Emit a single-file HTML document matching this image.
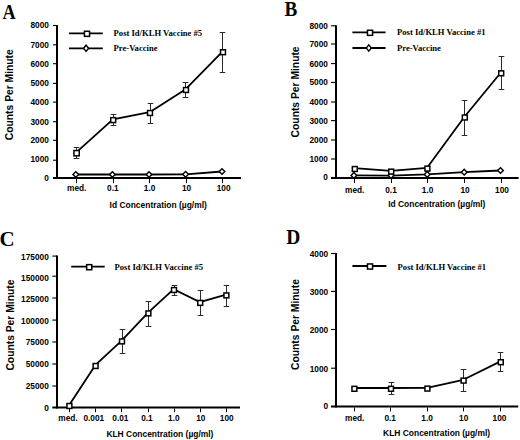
<!DOCTYPE html>
<html><head><meta charset="utf-8"><style>
html,body{margin:0;padding:0;background:#fff;width:520px;height:440px;overflow:hidden}
svg{display:block}
</style></head><body>
<svg width="520" height="440" viewBox="0 0 520 440">
<rect width="520" height="440" fill="#fff"/>
<text transform="translate(2.40,19.10) scale(0.85,1)" x="0" y="0" font-family='"Liberation Serif", serif' font-size="21.5" font-weight="bold">A</text>
<line x1="53.00" y1="25.50" x2="57.00" y2="25.50" stroke="#000" stroke-width="1.1" stroke-linecap="butt"/>
<text x="48.90" y="28.41" font-family='"Liberation Sans", sans-serif' font-size="8.3" font-weight="bold" text-anchor="end">8000</text>
<line x1="53.00" y1="44.80" x2="57.00" y2="44.80" stroke="#000" stroke-width="1.1" stroke-linecap="butt"/>
<text x="48.90" y="47.70" font-family='"Liberation Sans", sans-serif' font-size="8.3" font-weight="bold" text-anchor="end">7000</text>
<line x1="53.00" y1="63.70" x2="57.00" y2="63.70" stroke="#000" stroke-width="1.1" stroke-linecap="butt"/>
<text x="48.90" y="66.61" font-family='"Liberation Sans", sans-serif' font-size="8.3" font-weight="bold" text-anchor="end">6000</text>
<line x1="53.00" y1="83.40" x2="57.00" y2="83.40" stroke="#000" stroke-width="1.1" stroke-linecap="butt"/>
<text x="48.90" y="86.31" font-family='"Liberation Sans", sans-serif' font-size="8.3" font-weight="bold" text-anchor="end">5000</text>
<line x1="53.00" y1="102.10" x2="57.00" y2="102.10" stroke="#000" stroke-width="1.1" stroke-linecap="butt"/>
<text x="48.90" y="105.00" font-family='"Liberation Sans", sans-serif' font-size="8.3" font-weight="bold" text-anchor="end">4000</text>
<line x1="53.00" y1="121.70" x2="57.00" y2="121.70" stroke="#000" stroke-width="1.1" stroke-linecap="butt"/>
<text x="48.90" y="124.61" font-family='"Liberation Sans", sans-serif' font-size="8.3" font-weight="bold" text-anchor="end">3000</text>
<line x1="53.00" y1="140.30" x2="57.00" y2="140.30" stroke="#000" stroke-width="1.1" stroke-linecap="butt"/>
<text x="48.90" y="143.21" font-family='"Liberation Sans", sans-serif' font-size="8.3" font-weight="bold" text-anchor="end">2000</text>
<line x1="53.00" y1="160.20" x2="57.00" y2="160.20" stroke="#000" stroke-width="1.1" stroke-linecap="butt"/>
<text x="48.90" y="161.80" font-family='"Liberation Sans", sans-serif' font-size="8.3" font-weight="bold" text-anchor="end">1000</text>
<text x="48.90" y="180.91" font-family='"Liberation Sans", sans-serif' font-size="8.3" font-weight="bold" text-anchor="end">0</text>
<line x1="57.00" y1="25.00" x2="57.00" y2="179.00" stroke="#000" stroke-width="2.0" stroke-linecap="butt"/>
<line x1="53.00" y1="178.00" x2="241.00" y2="178.00" stroke="#000" stroke-width="2.0" stroke-linecap="butt"/>
<line x1="76.50" y1="179.00" x2="76.50" y2="183.20" stroke="#000" stroke-width="1.0" stroke-linecap="butt"/>
<line x1="113.50" y1="179.00" x2="113.50" y2="183.20" stroke="#000" stroke-width="1.0" stroke-linecap="butt"/>
<line x1="149.50" y1="179.00" x2="149.50" y2="183.20" stroke="#000" stroke-width="1.0" stroke-linecap="butt"/>
<line x1="186.50" y1="179.00" x2="186.50" y2="183.20" stroke="#000" stroke-width="1.0" stroke-linecap="butt"/>
<line x1="222.50" y1="179.00" x2="222.50" y2="183.20" stroke="#000" stroke-width="1.0" stroke-linecap="butt"/>
<text x="76.70" y="191.00" font-family='"Liberation Sans", sans-serif' font-size="8.3" font-weight="bold" text-anchor="middle">med.</text>
<text x="112.80" y="191.00" font-family='"Liberation Sans", sans-serif' font-size="8.3" font-weight="bold" text-anchor="middle">0.1</text>
<text x="149.60" y="191.00" font-family='"Liberation Sans", sans-serif' font-size="8.3" font-weight="bold" text-anchor="middle">1.0</text>
<text x="186.60" y="191.00" font-family='"Liberation Sans", sans-serif' font-size="8.3" font-weight="bold" text-anchor="middle">10</text>
<text x="223.60" y="191.00" font-family='"Liberation Sans", sans-serif' font-size="8.3" font-weight="bold" text-anchor="middle">100</text>
<text x="158.20" y="208.00" font-family='"Liberation Sans", sans-serif' font-size="8.45" font-weight="bold" text-anchor="middle">Id Concentration (µg/ml)</text>
<text transform="translate(13.30,94.70) rotate(-90)" x="0" y="0" font-family='"Liberation Sans", sans-serif' font-size="10.3" font-weight="bold" text-anchor="middle">Counts Per Minute</text>
<line x1="69.00" y1="33.30" x2="102.80" y2="33.30" stroke="#000" stroke-width="1.8" stroke-linecap="butt"/>
<rect x="84.45" y="31.25" width="5.10" height="5.10" fill="#fff" stroke="#000" stroke-width="1.5"/>
<text x="113.60" y="35.60" font-family='"Liberation Serif", serif' font-size="8.6" font-weight="bold" text-anchor="start">Post Id/KLH Vaccine #5</text>
<line x1="69.00" y1="48.30" x2="102.80" y2="48.30" stroke="#000" stroke-width="1.8" stroke-linecap="butt"/>
<path d="M86.10 45.20L88.60 48.30L86.10 51.40L83.60 48.30Z" fill="#fff" stroke="#000" stroke-width="1.4"/>
<text x="113.60" y="51.00" font-family='"Liberation Serif", serif' font-size="8.6" font-weight="bold" text-anchor="start">Pre-Vaccine</text>
<polyline points="75.80,174.50 112.40,174.50 149.00,174.50 185.60,174.30 222.00,171.50" fill="none" stroke="#000" stroke-width="1.8" stroke-linejoin="round"/>
<path d="M75.80 171.65L78.65 174.50L75.80 177.35L72.95 174.50Z" fill="#fff" stroke="#000" stroke-width="1.4"/>
<path d="M112.40 171.65L115.25 174.50L112.40 177.35L109.55 174.50Z" fill="#fff" stroke="#000" stroke-width="1.4"/>
<path d="M149.00 171.65L151.85 174.50L149.00 177.35L146.15 174.50Z" fill="#fff" stroke="#000" stroke-width="1.4"/>
<path d="M185.60 171.45L188.45 174.30L185.60 177.15L182.75 174.30Z" fill="#fff" stroke="#000" stroke-width="1.4"/>
<path d="M222.00 168.65L224.85 171.50L222.00 174.35L219.15 171.50Z" fill="#fff" stroke="#000" stroke-width="1.4"/>
<line x1="76.50" y1="147.40" x2="76.50" y2="158.60" stroke="#2a2a2a" stroke-width="1.0" stroke-linecap="butt"/>
<line x1="73.70" y1="147.50" x2="79.30" y2="147.50" stroke="#2a2a2a" stroke-width="1.0" stroke-linecap="butt"/>
<line x1="73.70" y1="158.50" x2="79.30" y2="158.50" stroke="#2a2a2a" stroke-width="1.0" stroke-linecap="butt"/>
<line x1="113.50" y1="114.80" x2="113.50" y2="125.30" stroke="#2a2a2a" stroke-width="1.0" stroke-linecap="butt"/>
<line x1="110.70" y1="114.50" x2="116.30" y2="114.50" stroke="#2a2a2a" stroke-width="1.0" stroke-linecap="butt"/>
<line x1="110.70" y1="125.50" x2="116.30" y2="125.50" stroke="#2a2a2a" stroke-width="1.0" stroke-linecap="butt"/>
<line x1="150.50" y1="103.50" x2="150.50" y2="123.00" stroke="#2a2a2a" stroke-width="1.0" stroke-linecap="butt"/>
<line x1="147.70" y1="103.50" x2="153.30" y2="103.50" stroke="#2a2a2a" stroke-width="1.0" stroke-linecap="butt"/>
<line x1="147.70" y1="123.50" x2="153.30" y2="123.50" stroke="#2a2a2a" stroke-width="1.0" stroke-linecap="butt"/>
<line x1="185.50" y1="82.70" x2="185.50" y2="97.20" stroke="#2a2a2a" stroke-width="1.0" stroke-linecap="butt"/>
<line x1="182.70" y1="82.50" x2="188.30" y2="82.50" stroke="#2a2a2a" stroke-width="1.0" stroke-linecap="butt"/>
<line x1="182.70" y1="97.50" x2="188.30" y2="97.50" stroke="#2a2a2a" stroke-width="1.0" stroke-linecap="butt"/>
<line x1="222.50" y1="32.50" x2="222.50" y2="72.00" stroke="#2a2a2a" stroke-width="1.0" stroke-linecap="butt"/>
<line x1="219.70" y1="32.50" x2="225.30" y2="32.50" stroke="#2a2a2a" stroke-width="1.0" stroke-linecap="butt"/>
<line x1="219.70" y1="72.50" x2="225.30" y2="72.50" stroke="#2a2a2a" stroke-width="1.0" stroke-linecap="butt"/>
<polyline points="76.30,152.40 112.90,119.30 149.70,112.20 185.70,89.20 222.70,51.40" fill="none" stroke="#000" stroke-width="1.8" stroke-linejoin="round"/>
<rect x="73.95" y="150.55" width="5.30" height="5.30" fill="#fff" stroke="#000" stroke-width="1.5"/>
<rect x="110.75" y="117.65" width="4.90" height="4.90" fill="#fff" stroke="#000" stroke-width="1.5"/>
<rect x="147.55" y="110.55" width="4.90" height="4.90" fill="#fff" stroke="#000" stroke-width="1.5"/>
<rect x="183.55" y="87.55" width="4.90" height="4.90" fill="#fff" stroke="#000" stroke-width="1.5"/>
<rect x="220.55" y="49.75" width="4.90" height="4.90" fill="#fff" stroke="#000" stroke-width="1.5"/>
<text transform="translate(284.40,15.60) scale(0.91,1)" x="0" y="0" font-family='"Liberation Serif", serif' font-size="21.0" font-weight="bold">B</text>
<line x1="331.00" y1="25.80" x2="336.00" y2="25.80" stroke="#000" stroke-width="1.1" stroke-linecap="butt"/>
<text x="327.90" y="28.71" font-family='"Liberation Sans", sans-serif' font-size="8.3" font-weight="bold" text-anchor="end">8000</text>
<line x1="331.00" y1="44.00" x2="336.00" y2="44.00" stroke="#000" stroke-width="1.1" stroke-linecap="butt"/>
<text x="327.90" y="46.91" font-family='"Liberation Sans", sans-serif' font-size="8.3" font-weight="bold" text-anchor="end">7000</text>
<line x1="331.00" y1="63.60" x2="336.00" y2="63.60" stroke="#000" stroke-width="1.1" stroke-linecap="butt"/>
<text x="327.90" y="66.50" font-family='"Liberation Sans", sans-serif' font-size="8.3" font-weight="bold" text-anchor="end">6000</text>
<line x1="331.00" y1="82.40" x2="336.00" y2="82.40" stroke="#000" stroke-width="1.1" stroke-linecap="butt"/>
<text x="327.90" y="85.31" font-family='"Liberation Sans", sans-serif' font-size="8.3" font-weight="bold" text-anchor="end">5000</text>
<line x1="331.00" y1="102.00" x2="336.00" y2="102.00" stroke="#000" stroke-width="1.1" stroke-linecap="butt"/>
<text x="327.90" y="105.11" font-family='"Liberation Sans", sans-serif' font-size="8.3" font-weight="bold" text-anchor="end">4000</text>
<line x1="331.00" y1="120.60" x2="336.00" y2="120.60" stroke="#000" stroke-width="1.1" stroke-linecap="butt"/>
<text x="327.90" y="123.70" font-family='"Liberation Sans", sans-serif' font-size="8.3" font-weight="bold" text-anchor="end">3000</text>
<line x1="331.00" y1="140.00" x2="336.00" y2="140.00" stroke="#000" stroke-width="1.1" stroke-linecap="butt"/>
<text x="327.90" y="143.10" font-family='"Liberation Sans", sans-serif' font-size="8.3" font-weight="bold" text-anchor="end">2000</text>
<line x1="331.00" y1="159.00" x2="336.00" y2="159.00" stroke="#000" stroke-width="1.1" stroke-linecap="butt"/>
<text x="327.90" y="162.10" font-family='"Liberation Sans", sans-serif' font-size="8.3" font-weight="bold" text-anchor="end">1000</text>
<text x="327.90" y="180.00" font-family='"Liberation Sans", sans-serif' font-size="8.3" font-weight="bold" text-anchor="end">0</text>
<line x1="336.00" y1="25.30" x2="336.00" y2="179.00" stroke="#000" stroke-width="2.0" stroke-linecap="butt"/>
<line x1="331.00" y1="178.00" x2="518.60" y2="178.00" stroke="#000" stroke-width="2.0" stroke-linecap="butt"/>
<line x1="354.50" y1="179.00" x2="354.50" y2="183.00" stroke="#000" stroke-width="1.0" stroke-linecap="butt"/>
<line x1="391.50" y1="179.00" x2="391.50" y2="183.00" stroke="#000" stroke-width="1.0" stroke-linecap="butt"/>
<line x1="427.50" y1="179.00" x2="427.50" y2="183.00" stroke="#000" stroke-width="1.0" stroke-linecap="butt"/>
<line x1="464.50" y1="179.00" x2="464.50" y2="183.00" stroke="#000" stroke-width="1.0" stroke-linecap="butt"/>
<line x1="501.50" y1="179.00" x2="501.50" y2="183.00" stroke="#000" stroke-width="1.0" stroke-linecap="butt"/>
<text x="354.70" y="193.00" font-family='"Liberation Sans", sans-serif' font-size="8.3" font-weight="bold" text-anchor="middle">med.</text>
<text x="391.00" y="193.00" font-family='"Liberation Sans", sans-serif' font-size="8.3" font-weight="bold" text-anchor="middle">0.1</text>
<text x="427.60" y="193.00" font-family='"Liberation Sans", sans-serif' font-size="8.3" font-weight="bold" text-anchor="middle">1.0</text>
<text x="465.10" y="193.00" font-family='"Liberation Sans", sans-serif' font-size="8.3" font-weight="bold" text-anchor="middle">10</text>
<text x="502.00" y="193.00" font-family='"Liberation Sans", sans-serif' font-size="8.3" font-weight="bold" text-anchor="middle">100</text>
<text x="436.80" y="207.00" font-family='"Liberation Sans", sans-serif' font-size="8.45" font-weight="bold" text-anchor="middle">Id Concentration (µg/ml)</text>
<text transform="translate(298.60,91.90) rotate(-90)" x="0" y="0" font-family='"Liberation Sans", sans-serif' font-size="10.3" font-weight="bold" text-anchor="middle">Counts Per Minute</text>
<line x1="352.40" y1="32.30" x2="385.60" y2="32.30" stroke="#000" stroke-width="1.8" stroke-linecap="butt"/>
<rect x="367.45" y="30.25" width="5.10" height="5.10" fill="#fff" stroke="#000" stroke-width="1.5"/>
<text x="397.00" y="35.00" font-family='"Liberation Serif", serif' font-size="8.6" font-weight="bold" text-anchor="start">Post Id/KLH Vaccine #1</text>
<line x1="352.40" y1="48.00" x2="385.60" y2="48.00" stroke="#000" stroke-width="1.8" stroke-linecap="butt"/>
<path d="M368.80 44.90L371.30 48.00L368.80 51.10L366.30 48.00Z" fill="#fff" stroke="#000" stroke-width="1.4"/>
<text x="397.00" y="51.10" font-family='"Liberation Serif", serif' font-size="8.6" font-weight="bold" text-anchor="start">Pre-Vaccine</text>
<polyline points="353.90,175.40 391.00,175.60 427.20,174.40 464.20,172.20 500.50,170.50" fill="none" stroke="#000" stroke-width="1.8" stroke-linejoin="round"/>
<path d="M353.90 172.55L356.75 175.40L353.90 178.25L351.05 175.40Z" fill="#fff" stroke="#000" stroke-width="1.4"/>
<path d="M391.00 172.75L393.85 175.60L391.00 178.45L388.15 175.60Z" fill="#fff" stroke="#000" stroke-width="1.4"/>
<path d="M427.20 171.55L430.05 174.40L427.20 177.25L424.35 174.40Z" fill="#fff" stroke="#000" stroke-width="1.4"/>
<path d="M464.20 169.35L467.05 172.20L464.20 175.05L461.35 172.20Z" fill="#fff" stroke="#000" stroke-width="1.4"/>
<path d="M500.50 167.65L503.35 170.50L500.50 173.35L497.65 170.50Z" fill="#fff" stroke="#000" stroke-width="1.4"/>
<line x1="464.50" y1="100.00" x2="464.50" y2="135.50" stroke="#2a2a2a" stroke-width="1.0" stroke-linecap="butt"/>
<line x1="461.70" y1="100.50" x2="467.30" y2="100.50" stroke="#2a2a2a" stroke-width="1.0" stroke-linecap="butt"/>
<line x1="461.70" y1="135.50" x2="467.30" y2="135.50" stroke="#2a2a2a" stroke-width="1.0" stroke-linecap="butt"/>
<line x1="501.50" y1="56.40" x2="501.50" y2="89.00" stroke="#2a2a2a" stroke-width="1.0" stroke-linecap="butt"/>
<line x1="498.70" y1="56.50" x2="504.30" y2="56.50" stroke="#2a2a2a" stroke-width="1.0" stroke-linecap="butt"/>
<line x1="498.70" y1="89.50" x2="504.30" y2="89.50" stroke="#2a2a2a" stroke-width="1.0" stroke-linecap="butt"/>
<polyline points="354.50,168.20 390.90,170.80 427.10,167.80 464.50,116.70 500.90,72.50" fill="none" stroke="#000" stroke-width="1.8" stroke-linejoin="round"/>
<rect x="352.35" y="166.55" width="4.90" height="4.90" fill="#fff" stroke="#000" stroke-width="1.5"/>
<rect x="388.75" y="169.15" width="4.90" height="4.90" fill="#fff" stroke="#000" stroke-width="1.5"/>
<rect x="424.95" y="166.15" width="4.90" height="4.90" fill="#fff" stroke="#000" stroke-width="1.5"/>
<rect x="462.35" y="115.05" width="4.90" height="4.90" fill="#fff" stroke="#000" stroke-width="1.5"/>
<rect x="498.75" y="70.85" width="4.90" height="4.90" fill="#fff" stroke="#000" stroke-width="1.5"/>
<text transform="translate(-0.50,245.50) scale(0.965,1)" x="0" y="0" font-family='"Liberation Serif", serif' font-size="21.75" font-weight="bold">C</text>
<line x1="52.30" y1="256.10" x2="57.00" y2="256.10" stroke="#000" stroke-width="1.1" stroke-linecap="butt"/>
<text x="48.80" y="260.40" font-family='"Liberation Sans", sans-serif' font-size="8.3" font-weight="bold" text-anchor="end">175000</text>
<line x1="52.30" y1="276.20" x2="57.00" y2="276.20" stroke="#000" stroke-width="1.1" stroke-linecap="butt"/>
<text x="48.80" y="280.70" font-family='"Liberation Sans", sans-serif' font-size="8.3" font-weight="bold" text-anchor="end">150000</text>
<line x1="52.30" y1="298.00" x2="57.00" y2="298.00" stroke="#000" stroke-width="1.1" stroke-linecap="butt"/>
<text x="48.80" y="302.40" font-family='"Liberation Sans", sans-serif' font-size="8.3" font-weight="bold" text-anchor="end">125000</text>
<line x1="52.30" y1="320.10" x2="57.00" y2="320.10" stroke="#000" stroke-width="1.1" stroke-linecap="butt"/>
<text x="48.80" y="323.90" font-family='"Liberation Sans", sans-serif' font-size="8.3" font-weight="bold" text-anchor="end">100000</text>
<line x1="52.30" y1="342.00" x2="57.00" y2="342.00" stroke="#000" stroke-width="1.1" stroke-linecap="butt"/>
<text x="48.80" y="345.40" font-family='"Liberation Sans", sans-serif' font-size="8.3" font-weight="bold" text-anchor="end">75000</text>
<line x1="52.30" y1="364.00" x2="57.00" y2="364.00" stroke="#000" stroke-width="1.1" stroke-linecap="butt"/>
<text x="48.80" y="367.20" font-family='"Liberation Sans", sans-serif' font-size="8.3" font-weight="bold" text-anchor="end">50000</text>
<line x1="52.30" y1="386.00" x2="57.00" y2="386.00" stroke="#000" stroke-width="1.1" stroke-linecap="butt"/>
<text x="48.80" y="389.00" font-family='"Liberation Sans", sans-serif' font-size="8.3" font-weight="bold" text-anchor="end">25000</text>
<text x="48.80" y="410.90" font-family='"Liberation Sans", sans-serif' font-size="8.3" font-weight="bold" text-anchor="end">0</text>
<line x1="57.00" y1="255.60" x2="57.00" y2="408.40" stroke="#000" stroke-width="2.0" stroke-linecap="butt"/>
<line x1="52.30" y1="407.40" x2="240.00" y2="407.40" stroke="#000" stroke-width="2.0" stroke-linecap="butt"/>
<line x1="69.50" y1="408.40" x2="69.50" y2="412.20" stroke="#000" stroke-width="1.0" stroke-linecap="butt"/>
<line x1="95.50" y1="408.40" x2="95.50" y2="412.20" stroke="#000" stroke-width="1.0" stroke-linecap="butt"/>
<line x1="121.50" y1="408.40" x2="121.50" y2="412.20" stroke="#000" stroke-width="1.0" stroke-linecap="butt"/>
<line x1="148.50" y1="408.40" x2="148.50" y2="412.20" stroke="#000" stroke-width="1.0" stroke-linecap="butt"/>
<line x1="174.50" y1="408.40" x2="174.50" y2="412.20" stroke="#000" stroke-width="1.0" stroke-linecap="butt"/>
<line x1="200.50" y1="408.40" x2="200.50" y2="412.20" stroke="#000" stroke-width="1.0" stroke-linecap="butt"/>
<line x1="226.50" y1="408.40" x2="226.50" y2="412.20" stroke="#000" stroke-width="1.0" stroke-linecap="butt"/>
<text x="68.05" y="420.70" font-family='"Liberation Sans", sans-serif' font-size="8.3" font-weight="bold" text-anchor="middle">med.</text>
<text x="93.85" y="420.70" font-family='"Liberation Sans", sans-serif' font-size="8.3" font-weight="bold" text-anchor="middle">0.001</text>
<text x="120.35" y="420.70" font-family='"Liberation Sans", sans-serif' font-size="8.3" font-weight="bold" text-anchor="middle">0.01</text>
<text x="146.90" y="420.70" font-family='"Liberation Sans", sans-serif' font-size="8.3" font-weight="bold" text-anchor="middle">0.1</text>
<text x="173.80" y="420.70" font-family='"Liberation Sans", sans-serif' font-size="8.3" font-weight="bold" text-anchor="middle">1.0</text>
<text x="200.80" y="420.70" font-family='"Liberation Sans", sans-serif' font-size="8.3" font-weight="bold" text-anchor="middle">10</text>
<text x="226.70" y="420.70" font-family='"Liberation Sans", sans-serif' font-size="8.3" font-weight="bold" text-anchor="middle">100</text>
<text x="159.90" y="437.00" font-family='"Liberation Sans", sans-serif' font-size="8.45" font-weight="bold" text-anchor="middle">KLH Concentration (µg/ml)</text>
<text transform="translate(14.10,325.10) rotate(-90)" x="0" y="0" font-family='"Liberation Sans", sans-serif' font-size="10.3" font-weight="bold" text-anchor="middle">Counts Per Minute</text>
<line x1="71.20" y1="266.70" x2="104.70" y2="266.70" stroke="#000" stroke-width="1.8" stroke-linecap="butt"/>
<rect x="86.65" y="264.65" width="5.10" height="5.10" fill="#fff" stroke="#000" stroke-width="1.5"/>
<text x="114.50" y="269.60" font-family='"Liberation Serif", serif' font-size="8.6" font-weight="bold" text-anchor="start">Post Id/KLH Vaccine #5</text>
<line x1="122.50" y1="329.60" x2="122.50" y2="353.00" stroke="#2a2a2a" stroke-width="1.0" stroke-linecap="butt"/>
<line x1="119.70" y1="329.50" x2="125.30" y2="329.50" stroke="#2a2a2a" stroke-width="1.0" stroke-linecap="butt"/>
<line x1="119.70" y1="353.50" x2="125.30" y2="353.50" stroke="#2a2a2a" stroke-width="1.0" stroke-linecap="butt"/>
<line x1="148.50" y1="301.60" x2="148.50" y2="326.00" stroke="#2a2a2a" stroke-width="1.0" stroke-linecap="butt"/>
<line x1="145.70" y1="301.50" x2="151.30" y2="301.50" stroke="#2a2a2a" stroke-width="1.0" stroke-linecap="butt"/>
<line x1="145.70" y1="326.50" x2="151.30" y2="326.50" stroke="#2a2a2a" stroke-width="1.0" stroke-linecap="butt"/>
<line x1="174.50" y1="285.00" x2="174.50" y2="295.60" stroke="#2a2a2a" stroke-width="1.0" stroke-linecap="butt"/>
<line x1="171.70" y1="285.50" x2="177.30" y2="285.50" stroke="#2a2a2a" stroke-width="1.0" stroke-linecap="butt"/>
<line x1="171.70" y1="295.50" x2="177.30" y2="295.50" stroke="#2a2a2a" stroke-width="1.0" stroke-linecap="butt"/>
<line x1="200.50" y1="290.20" x2="200.50" y2="315.70" stroke="#2a2a2a" stroke-width="1.0" stroke-linecap="butt"/>
<line x1="197.70" y1="290.50" x2="203.30" y2="290.50" stroke="#2a2a2a" stroke-width="1.0" stroke-linecap="butt"/>
<line x1="197.70" y1="315.50" x2="203.30" y2="315.50" stroke="#2a2a2a" stroke-width="1.0" stroke-linecap="butt"/>
<line x1="226.50" y1="285.40" x2="226.50" y2="306.00" stroke="#2a2a2a" stroke-width="1.0" stroke-linecap="butt"/>
<line x1="223.70" y1="285.50" x2="229.30" y2="285.50" stroke="#2a2a2a" stroke-width="1.0" stroke-linecap="butt"/>
<line x1="223.70" y1="306.50" x2="229.30" y2="306.50" stroke="#2a2a2a" stroke-width="1.0" stroke-linecap="butt"/>
<polyline points="69.10,405.20 95.30,365.20 121.70,340.60 148.10,312.60 173.70,289.20 199.90,302.10 226.10,294.60" fill="none" stroke="#000" stroke-width="1.8" stroke-linejoin="round"/>
<rect x="66.95" y="403.55" width="4.90" height="4.90" fill="#fff" stroke="#000" stroke-width="1.5"/>
<rect x="93.15" y="363.55" width="4.90" height="4.90" fill="#fff" stroke="#000" stroke-width="1.5"/>
<rect x="119.55" y="338.95" width="4.90" height="4.90" fill="#fff" stroke="#000" stroke-width="1.5"/>
<rect x="145.95" y="310.95" width="4.90" height="4.90" fill="#fff" stroke="#000" stroke-width="1.5"/>
<rect x="171.55" y="287.55" width="4.90" height="4.90" fill="#fff" stroke="#000" stroke-width="1.5"/>
<rect x="197.75" y="300.45" width="4.90" height="4.90" fill="#fff" stroke="#000" stroke-width="1.5"/>
<rect x="223.95" y="292.95" width="4.90" height="4.90" fill="#fff" stroke="#000" stroke-width="1.5"/>
<text transform="translate(286.30,244.20) scale(0.944,1)" x="0" y="0" font-family='"Liberation Serif", serif' font-size="20.65" font-weight="bold">D</text>
<line x1="331.00" y1="253.50" x2="336.00" y2="253.50" stroke="#000" stroke-width="1.1" stroke-linecap="butt"/>
<text x="328.20" y="257.10" font-family='"Liberation Sans", sans-serif' font-size="8.3" font-weight="bold" text-anchor="end">4000</text>
<line x1="331.00" y1="291.40" x2="336.00" y2="291.40" stroke="#000" stroke-width="1.1" stroke-linecap="butt"/>
<text x="328.20" y="295.00" font-family='"Liberation Sans", sans-serif' font-size="8.3" font-weight="bold" text-anchor="end">3000</text>
<line x1="331.00" y1="329.50" x2="336.00" y2="329.50" stroke="#000" stroke-width="1.1" stroke-linecap="butt"/>
<text x="328.20" y="333.10" font-family='"Liberation Sans", sans-serif' font-size="8.3" font-weight="bold" text-anchor="end">2000</text>
<line x1="331.00" y1="368.20" x2="336.00" y2="368.20" stroke="#000" stroke-width="1.1" stroke-linecap="butt"/>
<text x="328.20" y="371.80" font-family='"Liberation Sans", sans-serif' font-size="8.3" font-weight="bold" text-anchor="end">1000</text>
<text x="328.20" y="409.20" font-family='"Liberation Sans", sans-serif' font-size="8.3" font-weight="bold" text-anchor="end">0</text>
<line x1="336.00" y1="253.00" x2="336.00" y2="407.40" stroke="#000" stroke-width="2.0" stroke-linecap="butt"/>
<line x1="331.00" y1="406.40" x2="518.20" y2="406.40" stroke="#000" stroke-width="2.0" stroke-linecap="butt"/>
<line x1="354.50" y1="407.40" x2="354.50" y2="411.40" stroke="#000" stroke-width="1.0" stroke-linecap="butt"/>
<line x1="390.50" y1="407.40" x2="390.50" y2="411.40" stroke="#000" stroke-width="1.0" stroke-linecap="butt"/>
<line x1="427.50" y1="407.40" x2="427.50" y2="411.40" stroke="#000" stroke-width="1.0" stroke-linecap="butt"/>
<line x1="463.50" y1="407.40" x2="463.50" y2="411.40" stroke="#000" stroke-width="1.0" stroke-linecap="butt"/>
<line x1="500.50" y1="407.40" x2="500.50" y2="411.40" stroke="#000" stroke-width="1.0" stroke-linecap="butt"/>
<text x="354.70" y="420.80" font-family='"Liberation Sans", sans-serif' font-size="8.3" font-weight="bold" text-anchor="middle">med.</text>
<text x="390.20" y="420.80" font-family='"Liberation Sans", sans-serif' font-size="8.3" font-weight="bold" text-anchor="middle">0.1</text>
<text x="427.10" y="420.80" font-family='"Liberation Sans", sans-serif' font-size="8.3" font-weight="bold" text-anchor="middle">1.0</text>
<text x="463.70" y="420.80" font-family='"Liberation Sans", sans-serif' font-size="8.3" font-weight="bold" text-anchor="middle">10</text>
<text x="499.50" y="420.80" font-family='"Liberation Sans", sans-serif' font-size="8.3" font-weight="bold" text-anchor="middle">100</text>
<text x="436.60" y="436.20" font-family='"Liberation Sans", sans-serif' font-size="8.45" font-weight="bold" text-anchor="middle">KLH Concentration (µg/ml)</text>
<text transform="translate(298.60,324.45) rotate(-90)" x="0" y="0" font-family='"Liberation Sans", sans-serif' font-size="10.3" font-weight="bold" text-anchor="middle">Counts Per Minute</text>
<line x1="352.40" y1="266.00" x2="386.40" y2="266.00" stroke="#000" stroke-width="1.8" stroke-linecap="butt"/>
<rect x="367.45" y="263.95" width="5.10" height="5.10" fill="#fff" stroke="#000" stroke-width="1.5"/>
<text x="397.60" y="269.50" font-family='"Liberation Serif", serif' font-size="8.6" font-weight="bold" text-anchor="start">Post Id/KLH Vaccine #1</text>
<line x1="391.50" y1="382.60" x2="391.50" y2="394.60" stroke="#2a2a2a" stroke-width="1.0" stroke-linecap="butt"/>
<line x1="388.70" y1="382.50" x2="394.30" y2="382.50" stroke="#2a2a2a" stroke-width="1.0" stroke-linecap="butt"/>
<line x1="388.70" y1="394.50" x2="394.30" y2="394.50" stroke="#2a2a2a" stroke-width="1.0" stroke-linecap="butt"/>
<line x1="463.50" y1="369.60" x2="463.50" y2="391.60" stroke="#2a2a2a" stroke-width="1.0" stroke-linecap="butt"/>
<line x1="460.70" y1="369.50" x2="466.30" y2="369.50" stroke="#2a2a2a" stroke-width="1.0" stroke-linecap="butt"/>
<line x1="460.70" y1="391.50" x2="466.30" y2="391.50" stroke="#2a2a2a" stroke-width="1.0" stroke-linecap="butt"/>
<line x1="500.50" y1="352.80" x2="500.50" y2="371.20" stroke="#2a2a2a" stroke-width="1.0" stroke-linecap="butt"/>
<line x1="497.70" y1="352.50" x2="503.30" y2="352.50" stroke="#2a2a2a" stroke-width="1.0" stroke-linecap="butt"/>
<line x1="497.70" y1="371.50" x2="503.30" y2="371.50" stroke="#2a2a2a" stroke-width="1.0" stroke-linecap="butt"/>
<polyline points="354.10,388.00 390.70,388.00 427.10,387.80 463.30,379.80 500.50,361.40" fill="none" stroke="#000" stroke-width="1.8" stroke-linejoin="round"/>
<rect x="351.95" y="386.35" width="4.90" height="4.90" fill="#fff" stroke="#000" stroke-width="1.5"/>
<rect x="388.55" y="386.35" width="4.90" height="4.90" fill="#fff" stroke="#000" stroke-width="1.5"/>
<rect x="424.95" y="386.15" width="4.90" height="4.90" fill="#fff" stroke="#000" stroke-width="1.5"/>
<rect x="461.15" y="378.15" width="4.90" height="4.90" fill="#fff" stroke="#000" stroke-width="1.5"/>
<rect x="498.35" y="359.75" width="4.90" height="4.90" fill="#fff" stroke="#000" stroke-width="1.5"/>
</svg>
</body></html>
